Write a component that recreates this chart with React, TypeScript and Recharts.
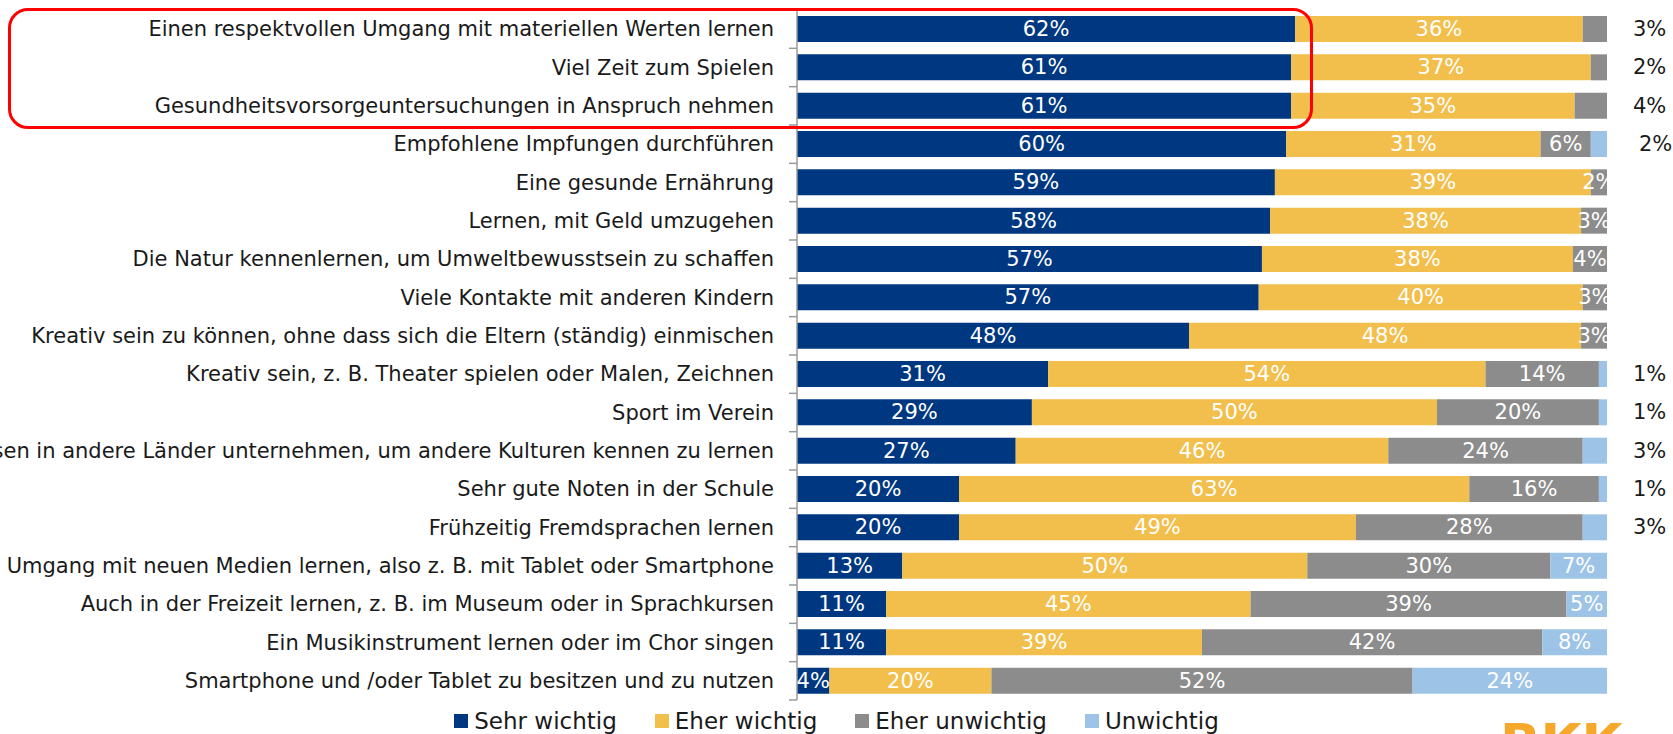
import { BarChart, Bar, XAxis, YAxis, Legend, LabelList } from "recharts";

const categories = [
  "Einen respektvollen Umgang mit materiellen Werten lernen",
  "Viel Zeit zum Spielen",
  "Gesundheitsvorsorgeuntersuchungen in Anspruch nehmen",
  "Empfohlene Impfungen durchführen",
  "Eine gesunde Ernährung",
  "Lernen, mit Geld umzugehen",
  "Die Natur kennenlernen, um Umweltbewusstsein zu schaffen",
  "Viele Kontakte mit anderen Kindern",
  "Kreativ sein zu können, ohne dass sich die Eltern (ständig) einmischen",
  "Kreativ sein, z. B. Theater spielen oder Malen, Zeichnen",
  "Sport im Verein",
  "Reisen in andere Länder unternehmen, um andere Kulturen kennen zu lernen",
  "Sehr gute Noten in der Schule",
  "Frühzeitig Fremdsprachen lernen",
  "Den Umgang mit neuen Medien lernen, also z. B. mit Tablet oder Smartphone",
  "Auch in der Freizeit lernen, z. B. im Museum oder in Sprachkursen",
  "Ein Musikinstrument lernen oder im Chor singen",
  "Smartphone und /oder Tablet zu besitzen und zu nutzen",
];

// shares in percent (labels show rounded values)
const sehrWichtig = [61.5, 61, 61, 60.4, 59, 58.4, 57.4, 57, 48.4, 31, 29, 27, 20, 20, 13, 11, 11, 4];
const eherWichtig = [35.5, 37, 35, 31.4, 39, 38.4, 38.4, 40, 48.4, 54, 50, 46, 63, 49, 50, 45, 39, 20];
const eherUnwichtig = [3, 2, 4, 6.2, 2, 3.2, 4.2, 3, 3.2, 14, 20, 24, 16, 28, 30, 39, 42, 52];
const unwichtig = [0, 0, 0, 2, 0, 0, 0, 0, 0, 1, 1, 3, 1, 3, 7, 5, 8, 24];

const seriesNames = ["Sehr wichtig", "Eher wichtig", "Eher unwichtig", "Unwichtig"];

const data = categories.map((name, i) => ({
  name,
  sehr: sehrWichtig[i],
  eher: eherWichtig[i],
  eherUn: eherUnwichtig[i],
  un: unwichtig[i],
}));

const FONT = "'DejaVu Sans', Verdana, sans-serif";
const W = 1673;
const H = 734;
const TOP = 10;
const PLOT_BOTTOM = 700;
const BAND = (PLOT_BOTTOM - TOP) / categories.length;
const HALF_BAND = BAND / 2;

const colors = ["#003781", "#F2BE4C", "#8C8C8C", "#9DC3E6"];
const keys = ["sehr", "eher", "eherUn", "un"];

// rows whose small last segment is labelled outside the bar, in black
const outsideRows: Record<string, number[]> = {
  eherUn: [0, 1, 2],
  un: [3, 9, 10, 11, 12, 13],
};

function CategoryTick(props: any) {
  const { x, y, payload } = props;
  return (
    <g>
      <text
        x={x - 23}
        y={y}
        textAnchor="end"
        dominantBaseline="central"
        fontSize={21}
        fontFamily={FONT}
        fill="#1a1a1a"
      >
        {payload.value}
      </text>
      <line x1={x - 8} x2={x} y1={y + HALF_BAND} y2={y + HALF_BAND} stroke="#9a9a9a" strokeWidth={1.5} />
    </g>
  );
}

function makeLabel(key: string) {
  return (props: any) => {
    const { x, y, width, height, value } = props;
    if (!value) return null;
    const text = `${Math.round(value)}%`;
    const cy = y + height / 2;
    // zero-width bars are skipped by LabelList, so find the row from the position
    const row = Math.round((cy - TOP - HALF_BAND) / BAND);
    if ((outsideRows[key] || []).includes(row)) {
      return (
        <text
          x={x + width + (row === 3 ? 32 : 26)}
          y={cy}
          dominantBaseline="central"
          fontSize={21}
          fontFamily={FONT}
          fill="#1a1a1a"
        >
          {text}
        </text>
      );
    }
    return (
      <text
        x={x + width / 2}
        y={cy}
        textAnchor="middle"
        dominantBaseline="central"
        fontSize={21}
        fontFamily={FONT}
        fill="#ffffff"
      >
        {text}
      </text>
    );
  };
}

function LegendContent() {
  return (
    <div
      style={{
        display: "flex",
        justifyContent: "center",
        alignItems: "center",
        height: 30,
        fontFamily: FONT,
        fontSize: 23,
        color: "#1a1a1a",
        gap: 38,
      }}
    >
      {seriesNames.map((n, i) => (
        <div key={n} style={{ display: "flex", alignItems: "center", gap: 6 }}>
          <span style={{ width: 14, height: 14, background: colors[i], display: "inline-block" }} />
          <span>{n}</span>
        </div>
      ))}
    </div>
  );
}

export default function App() {
  return (
    <div style={{ position: "absolute", left: 0, top: 0, width: W, height: H, overflow: "hidden", background: "#fff" }}>
      <BarChart
        width={W}
        height={H}
        data={data}
        layout="vertical"
        margin={{ top: TOP, right: 66, bottom: 4, left: 0 }}
      >
        <XAxis type="number" domain={[0, 100]} allowDataOverflow hide />
        <YAxis
          type="category"
          dataKey="name"
          width={797}
          interval={0}
          tickSize={0}
          tickMargin={0}
          axisLine={{ stroke: "#9a9a9a", strokeWidth: 1.5 }}
          tickLine={false}
          tick={<CategoryTick />}
        />
        <Legend
          verticalAlign="bottom"
          content={<LegendContent />}
          wrapperStyle={{ top: 706, left: 0, width: W, height: 30 }}
        />
        {keys.map((k, i) => (
          <Bar
            key={k}
            dataKey={k}
            name={seriesNames[i]}
            stackId="a"
            fill={colors[i]}
            barSize={26}
            isAnimationActive={false}
          >
            <LabelList dataKey={k} content={makeLabel(k)} />
          </Bar>
        ))}
      </BarChart>
      <div
        style={{
          position: "absolute",
          left: 8,
          top: 8,
          width: 1299,
          height: 115,
          border: "3px solid #ff0000",
          borderRadius: 20,
          pointerEvents: "none",
        }}
      />
      <div
        style={{
          position: "absolute",
          left: 1500,
          top: 717,
          fontFamily: FONT,
          fontWeight: "bold",
          fontSize: 53,
          lineHeight: "53px",
          color: "#F5A82A",
        }}
      >
        BKK
      </div>
    </div>
  );
}
